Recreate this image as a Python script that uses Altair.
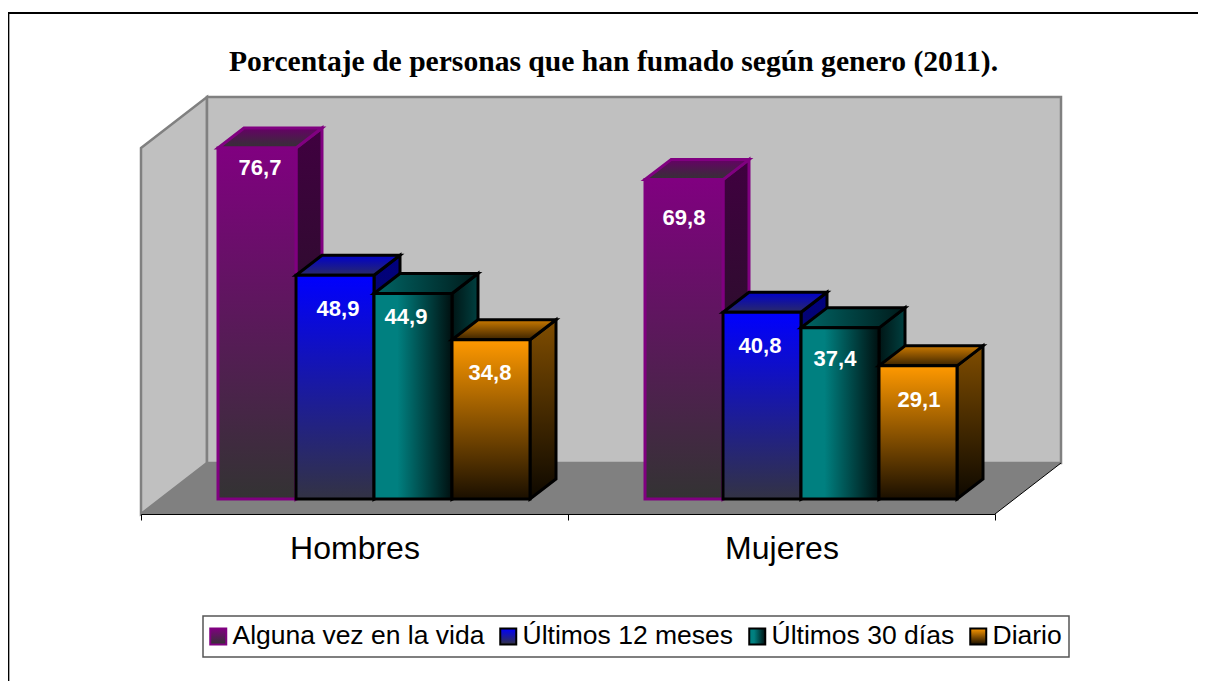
import altair as alt
import pandas as pd

categories = ["Hombres", "Mujeres"]
series = ["Alguna vez en la vida", "Últimos 12 meses", "Últimos 30 días", "Diario"]
values = {
    "Alguna vez en la vida": [76.7, 69.8],
    "Últimos 12 meses": [48.9, 40.8],
    "Últimos 30 días": [44.9, 37.4],
    "Diario": [34.8, 29.1],
}
value_labels = {
    "Alguna vez en la vida": ["76,7", "69,8"],
    "Últimos 12 meses": ["48,9", "40,8"],
    "Últimos 30 días": ["44,9", "37,4"],
    "Diario": ["34,8", "29,1"],
}
title_text = "Porcentaje de personas que han fumado según genero (2011)."

# ---- layout (pixels) ----
PW, PH = 854, 417
SLOT = PW / 2
PXV = 4.576
YMIN, YMAX = -15 / PXV, (PH - 15) / PXV
GAP, BARW = 77 / SLOT, 78 / SLOT
DX, DV = 26 / SLOT, 20 / PXV
WX, WV = 66 / SLOT, 51 / PXV
# label nudges in px from the bar's top-centre: (dx, dy)
nudge = {
    "Alguna vez en la vida": [(3, 20), (0, 38)],
    "Últimos 12 meses": [(3, 34), (-2, 34)],
    "Últimos 30 días": [(-7, 23), (-5, 31)],
    "Diario": [(-1, 33), (1, 34)],
}

def vgrad(*stops):
    return {"gradient": "linear", "x1": 0, "y1": 0, "x2": 0, "y2": 1,
            "stops": [{"offset": o, "color": c} for o, c in stops]}

def hgrad(*stops):
    return {"gradient": "linear", "x1": 0, "y1": 0, "x2": 1, "y2": 0,
            "stops": [{"offset": o, "color": c} for o, c in stops]}

def gexpr(g):
    st = ",".join("{offset:%s,color:'%s'}" % (s["offset"], s["color"]) for s in g["stops"])
    return {"expr": "{gradient:'linear',x1:%d,y1:%d,x2:%d,y2:%d,stops:[%s]}" %
            (g["x1"], g["y1"], g["x2"], g["y2"], st)}

front = {
    series[0]: vgrad((0, "#800080"), (1, "#333333")),
    series[1]: vgrad((0, "#0000FF"), (1, "#333344")),
    series[2]: hgrad((0, "#008080"), (0.3, "#008080"), (1, "#001010")),
    series[3]: vgrad((0, "#FF9900"), (1, "#1A0F00")),
}
side = {
    series[0]: vgrad((0, "#400040"), (1, "#1A1A1A")),
    series[1]: vgrad((0, "#000080"), (1, "#1A1A22")),
    series[2]: hgrad((0, "#001515"), (1, "#004040")),
    series[3]: vgrad((0, "#804D00"), (1, "#0D0800")),
}
top = {
    series[0]: vgrad((0, "#660066"), (1, "#333333")),
    series[1]: vgrad((0, "#0000CC"), (1, "#2A2A66")),
    series[2]: hgrad((0, "#006666"), (1, "#001A1A")),
    series[3]: vgrad((0, "#CC7A00"), (1, "#3A2200")),
}
edge = {series[0]: "#800080", series[1]: "#000000", series[2]: "#000000", series[3]: "#000000"}
edge_w = {series[0]: 3, series[1]: 3, series[2]: 3, series[3]: 3}

xq = alt.Scale(domain=[0, 2], nice=False, zero=False)
yq = alt.Scale(domain=[YMIN, YMAX], nice=False, zero=False)
X = alt.X("x:Q", scale=xq, axis=None)
Y = alt.Y("y:Q", scale=yq, axis=None)
fill_scale = alt.Scale(domain=series, range=[gexpr(front[s]) for s in series])
stroke_scale = alt.Scale(domain=series, range=[edge[s] for s in series])

layers = []

# left wall, back wall, floor
wall = pd.DataFrame({"x": [0, WX], "y": [76.7, 76.7 + WV], "y2": [YMIN, YMIN + WV]})
layers.append(alt.Chart(wall).mark_area(fill="#C0C0C0", stroke="#808080", strokeWidth=2.5)
              .encode(x=X, y=Y, y2="y2:Q"))
back = pd.DataFrame({"x": [WX], "x2": [2 + WX], "y": [YMIN + WV], "y2": [YMAX]})
layers.append(alt.Chart(back).mark_rect(fill="#C0C0C0", stroke="#808080", strokeWidth=2.5)
              .encode(x=X, x2="x2:Q", y=Y, y2="y2:Q"))
floor = pd.DataFrame({"x": [0, WX], "x2": [2, 2 + WX], "y": [YMIN, YMIN + WV]})
layers.append(alt.Chart(floor).mark_area(orient="horizontal", fill="#808080")
              .encode(x=X, x2="x2:Q", y=Y))
diag = pd.DataFrame({"x": [2, 2 + WX], "y": [YMIN, YMIN + WV]})
layers.append(alt.Chart(diag).mark_line(color="#000000", strokeWidth=1).encode(x=X, y=Y))

# category axis (ticks on the slot edges)
cat_df = pd.DataFrame({"cat": categories})
layers.append(alt.Chart(cat_df).mark_point(opacity=0).encode(
    x=alt.X("cat:N", sort=categories, title=None,
            scale=alt.Scale(paddingInner=0, paddingOuter=0),
            axis=alt.Axis(tickBand="extent", labelAngle=0, labelFont="Liberation Sans",
                          labelFontSize=32, labelColor="#000000", labelPadding=13,
                          tickColor="#000000", tickSize=6, tickWidth=1,
                          domainColor="#000000", domainWidth=1, grid=False, zindex=1))))

# bars, left to right so that later bars paint over earlier ones
label_rows = []
for si, s in enumerate(series):
    side_rows, top_rows, front_rows = [], [], []
    for ci, c in enumerate(categories):
        v = values[s][ci]
        x0 = ci + GAP + si * BARW
        x1 = x0 + BARW
        side_rows += [{"c": c, "x": x1, "y": v, "y2": 0},
                      {"c": c, "x": x1 + DX, "y": v + DV, "y2": DV}]
        top_rows += [{"c": c, "x": x0, "x2": x1, "y": v},
                     {"c": c, "x": x0 + DX, "x2": x1 + DX, "y": v + DV}]
        front_rows.append({"c": c, "x": x0, "x2": x1, "y": v, "y2": 0, "serie": s})
        ndx, ndy = nudge[s][ci]
        label_rows.append({"x": (x0 + x1) / 2 + ndx / SLOT, "y": v - ndy / PXV,
                           "t": value_labels[s][ci]})
    st = dict(stroke=edge[s], strokeWidth=edge_w[s], strokeJoin="miter")
    layers.append(alt.Chart(pd.DataFrame(side_rows)).mark_area(fill=side[s], **st)
                  .encode(x=X, y=Y, y2="y2:Q", detail="c:N"))
    layers.append(alt.Chart(pd.DataFrame(top_rows)).mark_area(orient="horizontal", fill=top[s], **st)
                  .encode(x=X, x2="x2:Q", y=Y, detail="c:N"))
    layers.append(alt.Chart(pd.DataFrame(front_rows)).mark_bar(strokeWidth=edge_w[s], strokeJoin="miter")
                  .encode(x=X, x2="x2:Q", y=Y, y2="y2:Q",
                          fill=alt.Fill("serie:N", scale=fill_scale, sort=series,
                                        legend=alt.Legend(
                                            title=None, orient="none", legendX=62, legendY=519,
                                            columns=4, columnPadding=11, padding=7,
                                            symbolType="square", symbolSize=256, symbolStrokeWidth=2,
                                            symbolOffset={"expr": "-5"},
                                            labelFont="Liberation Sans", labelFontSize=26.5,
                                            labelColor="#000000", labelOffset=1, labelLimit=400,
                                            fillColor="#FFFFFF", strokeColor="#555555")),
                          stroke=alt.Stroke("serie:N", scale=stroke_scale, sort=series, legend=None)))

layers.append(alt.Chart(pd.DataFrame(label_rows)).mark_text(
    font="Liberation Sans", fontWeight="bold", fontSize=22, color="#FFFFFF", baseline="middle"
).encode(x=X, y=Y, text="t:N"))

# outer chart frame (top and left edges are all that the picture shows)
layers.append(alt.Chart(pd.DataFrame({"k": [0]})).mark_rule(color="#000000", strokeWidth=2).encode(
    x=alt.value(-133), x2=alt.value(1057), y=alt.value(-84)))
layers.append(alt.Chart(pd.DataFrame({"k": [0]})).mark_rule(color="#000000", strokeWidth=1.5).encode(
    x=alt.value(-132.4), y=alt.value(-84), y2=alt.value(584)))

chart = alt.layer(*layers).resolve_scale(x="independent").properties(
    width=PW, height=PH, background="#FFFFFF",
    autosize=alt.AutoSizeParams(type="none"),
    padding={"left": 133, "top": 89, "right": 203, "bottom": 167},
    title=alt.TitleParams(title_text, font="Liberation Serif", fontWeight="bold", fontSize=29.6,
                          color="#000000", anchor="middle", frame="group", dx=45.5, offset=0, dy=66),
).configure_view(stroke=None).configure_legend(strokeWidth=1.5)

chart.save("out.html", embed_options={"renderer": "svg", "actions": False})
